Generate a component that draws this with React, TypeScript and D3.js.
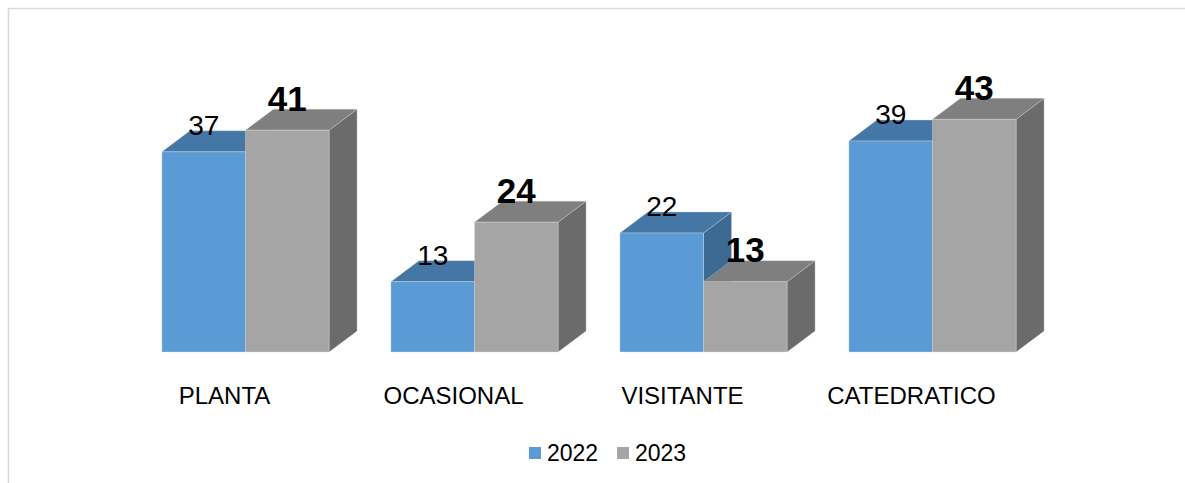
import React from "react";
import * as d3 from "d3";

const categories = ["PLANTA", "OCASIONAL", "VISITANTE", "CATEDRATICO"];
const seriesNames = ["2022", "2023"];
const values2022 = [37, 13, 22, 39];
const values2023 = [41, 24, 13, 43];

const W = 1185;
const H = 483;
const DX = 28;
const DY = -21;
const FONT = "Arial, 'Liberation Sans', sans-serif";

const palette = [
  { front: "#5B9BD5", top: "#4577A6", side: "#3D6A93", legend: "#5B9BD5" },
  { front: "#A5A5A5", top: "#7F7F7F", side: "#6B6B6B", legend: "#A5A5A5" },
];

export default function App() {
  const x0 = d3
    .scaleBand<string>()
    .domain(categories)
    .range([131, 131 + 4 * 229])
    .paddingInner(0.27)
    .paddingOuter(0.135);
  const x1 = d3
    .scaleBand<string>()
    .domain(seriesNames)
    .range([0, x0.bandwidth()])
    .padding(0);
  const y = d3.scaleLinear().domain([0, 50]).range([352, 352 - 50 * 5.41]);

  const series = [values2022, values2023];

  const bars: React.ReactNode[] = [];
  categories.forEach((cat, ci) => {
    series.forEach((vals, si) => {
      const v = vals[ci];
      const xl = (x0(cat) ?? 0) + (x1(seriesNames[si]) ?? 0);
      const xr = xl + x1.bandwidth();
      const yt = y(v);
      const yb = y(0);
      const c = palette[si];
      const front = `M${xl},${yt}L${xr},${yt}L${xr},${yb}L${xl},${yb}Z`;
      const top = `M${xl},${yt}L${xl + DX},${yt + DY}L${xr + DX},${yt + DY}L${xr},${yt}Z`;
      const side = `M${xr},${yt}L${xr + DX},${yt + DY}L${xr + DX},${yb + DY}L${xr},${yb}Z`;
      bars.push(
        <g key={`${cat}-${si}`}>
          <path d={side} fill={c.side} stroke="#d0d0d0" strokeWidth={0.6} strokeOpacity={0.6} />
          <path d={top} fill={c.top} stroke="#d0d0d0" strokeWidth={0.6} strokeOpacity={0.6} />
          <path d={front} fill={c.front} stroke="#e0e0e0" strokeWidth={0.6} strokeOpacity={0.6} />
        </g>
      );
    });
  });

  const labels: React.ReactNode[] = [];
  categories.forEach((cat, ci) => {
    series.forEach((vals, si) => {
      const v = vals[ci];
      const xl = (x0(cat) ?? 0) + (x1(seriesNames[si]) ?? 0);
      const cx = xl + x1.bandwidth() / 2;
      const bold = si === 1;
      labels.push(
        <text
          key={`lab-${cat}-${si}`}
          x={cx}
          y={y(v) - (bold ? 19.5 : 17)}
          textAnchor="middle"
          fontFamily={FONT}
          fontSize={bold ? 35 : 28}
          fontWeight={bold ? "bold" : "normal"}
          fill="#000"
        >
          {v}
        </text>
      );
    });
  });

  return (
    <div style={{ position: "fixed", left: 0, top: 0 }}>
      <svg width={W} height={H} style={{ display: "block" }}>
        <rect x={0} y={0} width={W} height={H} fill="#fff" />
        <rect
          x={8.5}
          y={8.5}
          width={W + 20}
          height={H + 20}
          fill="#fff"
          stroke="#d9d9d9"
          strokeWidth={1.5}
        />
        {bars}
        {labels}
        {categories.map((cat) => (
          <text
            key={`cat-${cat}`}
            x={(x0(cat) ?? 0) + x0.bandwidth() / 2 - 21}
            y={404}
            textAnchor="middle"
            fontFamily={FONT}
            fontSize={24}
            fill="#000"
          >
            {cat}
          </text>
        ))}
        {seriesNames.map((name, i) => {
          const lx = 529 + i * 88;
          return (
            <g key={`leg-${name}`}>
              <rect x={lx} y={447} width={12} height={12} fill={palette[i].legend} />
              <text x={lx + 18} y={461} fontFamily={FONT} fontSize={23} fill="#000">
                {name}
              </text>
            </g>
          );
        })}
      </svg>
    </div>
  );
}
